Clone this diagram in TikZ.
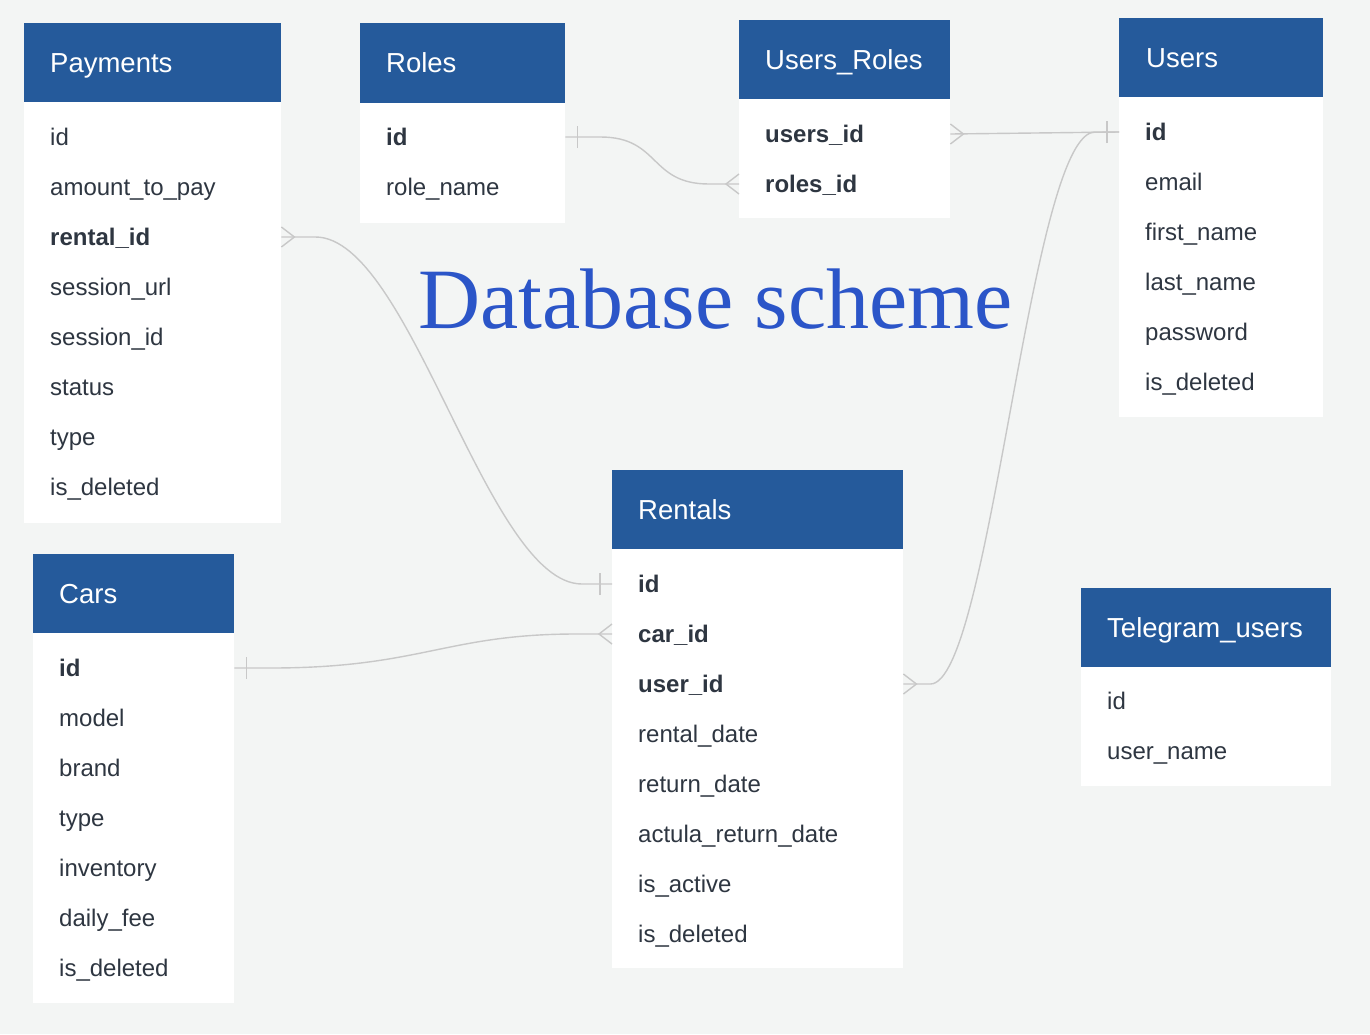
\documentclass[tikz,border=0pt]{standalone}
\usepackage{fontspec}
\setmainfont{Liberation Sans}
\newfontfamily\titlefont{Liberation Serif}
\usetikzlibrary{calc}
\definecolor{bgc}{HTML}{F3F5F4}
\definecolor{hblue}{HTML}{255A9B}
\definecolor{txt}{HTML}{2E3641}
\definecolor{lnc}{HTML}{C8C8C8}
\definecolor{ttl}{HTML}{2B55C8}
\tikzset{
  hdrbox/.style={fill=hblue, draw=none, anchor=north west, minimum height=79pt, inner sep=0pt},
  hdrtxt/.style={anchor=base west, inner sep=0pt, text=white, font=\fontsize{27.5}{30}\selectfont},
  bodybox/.style={fill=white, draw=none, anchor=north west, inner sep=0pt},
  row/.style={anchor=west, text width=#1, inner xsep=26pt, inner ysep=0pt, text height=20pt, text depth=3pt, minimum height=50pt, align=left, text=txt, font=\fontsize{24}{26}\selectfont},
  conn/.style={draw=lnc, line width=1.4pt},
  crow/.pic={\draw[conn] (0,10) -- (13,0) -- (0,-10);},
  onebar/.pic={\draw[conn] (12,-11) -- (12,11);}
}
\begin{document}
\begin{tikzpicture}[x=1pt,y=1pt]
\fill[bgc] (0,0) rectangle (1370,-1034);
\useasboundingbox (0,0) rectangle (1370,-1034);

% title
\node[anchor=base west, inner sep=0pt, text=ttl, font=\titlefont\fontsize{86}{90}\selectfont] (title) at (418,-328) {Database scheme};

% Payments
\node[bodybox, minimum width=257pt, minimum height=421pt] (payB) at (24,-102) {};
\node[hdrbox, minimum width=257pt] (payH) at (24,-23) {};
\node[hdrtxt] (payT) at (50,-72) {Payments};
\node[row=205pt] (pay-id) at (24,-137) {id};
\node[row=205pt] (pay-amt) at (24,-187) {amount\_to\_pay};
\node[row=205pt, font=\fontsize{24}{26}\selectfont\bfseries] (pay-rental) at (24,-237) {rental\_id};
\node[row=205pt] (pay-url) at (24,-287) {session\_url};
\node[row=205pt] (pay-sid) at (24,-337) {session\_id};
\node[row=205pt] (pay-status) at (24,-387) {status};
\node[row=205pt] (pay-type) at (24,-437) {type};
\node[row=205pt] (pay-del) at (24,-487) {is\_deleted};

% Roles
\node[bodybox, minimum width=205pt, minimum height=120pt] (rolB) at (360,-103) {};
\node[hdrbox, minimum width=205pt, minimum height=80pt] (rolH) at (360,-23) {};
\node[hdrtxt] (rolT) at (386,-72) {Roles};
\node[row=153pt, font=\fontsize{24}{26}\selectfont\bfseries] (rol-id) at (360,-137) {id};
\node[row=153pt] (rol-name) at (360,-187) {role\_name};

% Users_Roles
\node[bodybox, minimum width=211pt, minimum height=119pt] (urB) at (739,-99) {};
\node[hdrbox, minimum width=211pt] (urH) at (739,-20) {};
\node[hdrtxt] (urT) at (765,-69) {Users\_Roles};
\node[row=159pt, font=\fontsize{24}{26}\selectfont\bfseries] (ur-users) at (739,-134) {users\_id};
\node[row=159pt, font=\fontsize{24}{26}\selectfont\bfseries] (ur-roles) at (739,-184) {roles\_id};

% Users
\node[bodybox, minimum width=204pt, minimum height=320pt] (usB) at (1119,-97) {};
\node[hdrbox, minimum width=204pt] (usH) at (1119,-18) {};
\node[hdrtxt] (usT) at (1146,-67) {Users};
\node[row=152pt, font=\fontsize{24}{26}\selectfont\bfseries] (us-id) at (1119,-132) {id};
\node[row=152pt] (us-email) at (1119,-182) {email};
\node[row=152pt] (us-first) at (1119,-232) {first\_name};
\node[row=152pt] (us-last) at (1119,-282) {last\_name};
\node[row=152pt] (us-pass) at (1119,-332) {password};
\node[row=152pt] (us-del) at (1119,-382) {is\_deleted};

% Rentals
\node[bodybox, minimum width=291pt, minimum height=419pt] (renB) at (612,-549) {};
\node[hdrbox, minimum width=291pt] (renH) at (612,-470) {};
\node[hdrtxt] (renT) at (638,-519) {Rentals};
\node[row=239pt, font=\fontsize{24}{26}\selectfont\bfseries] (ren-id) at (612,-584) {id};
\node[row=239pt, font=\fontsize{24}{26}\selectfont\bfseries] (ren-car) at (612,-634) {car\_id};
\node[row=239pt, font=\fontsize{24}{26}\selectfont\bfseries] (ren-user) at (612,-684) {user\_id};
\node[row=239pt] (ren-rdate) at (612,-734) {rental\_date};
\node[row=239pt] (ren-ret) at (612,-784) {return\_date};
\node[row=239pt] (ren-act) at (612,-834) {actula\_return\_date};
\node[row=239pt] (ren-active) at (612,-884) {is\_active};
\node[row=239pt] (ren-del) at (612,-934) {is\_deleted};

% Cars
\node[bodybox, minimum width=201pt, minimum height=370pt] (carB) at (33,-633) {};
\node[hdrbox, minimum width=201pt] (carH) at (33,-554) {};
\node[hdrtxt] (carT) at (59,-603) {Cars};
\node[row=149pt, font=\fontsize{24}{26}\selectfont\bfseries] (car-id) at (33,-668) {id};
\node[row=149pt] (car-model) at (33,-718) {model};
\node[row=149pt] (car-brand) at (33,-768) {brand};
\node[row=149pt] (car-type) at (33,-818) {type};
\node[row=149pt] (car-inv) at (33,-868) {inventory};
\node[row=149pt] (car-fee) at (33,-918) {daily\_fee};
\node[row=149pt] (car-del) at (33,-968) {is\_deleted};

% Telegram_users
\node[bodybox, minimum width=250pt, minimum height=119pt] (tgB) at (1081,-667) {};
\node[hdrbox, minimum width=250pt] (tgH) at (1081,-588) {};
\node[hdrtxt] (tgT) at (1107,-637) {Telegram\_users};
\node[row=198pt] (tg-id) at (1081,-701) {id};
\node[row=198pt] (tg-name) at (1081,-751) {user\_name};

% connectors
\draw[conn] (rol-id.east) -- ++(35,0) .. controls +(60,0) and +(-60,0) .. ($(ur-roles.west)+(-30,0)$) -- (ur-roles.west);
\draw[conn] (ur-users.east) -- (us-id.west);
\draw[conn] (pay-rental.east) -- ++(34,0) .. controls +(95,0) and +(-95,0) .. ($(ren-id.west)+(-30,0)$) -- (ren-id.west);
\draw[conn] (car-id.east) -- ++(36,0) .. controls +(150,0) and +(-130,0) .. ($(ren-car.west)+(-36,0)$) -- (ren-car.west);
\draw[conn] (ren-user.east) -- ++(27,0) .. controls +(60,0) and +(-65,0) .. ($(us-id.west)+(-24,0)$) -- (us-id.west);

% ends
\pic at (pay-rental.east) {crow};
\pic[xscale=-1] at (ur-roles.west) {crow};
\pic at (ur-users.east) {crow};
\pic[xscale=-1] at (ren-car.west) {crow};
\pic at (ren-user.east) {crow};
\pic at (rol-id.east) {onebar};
\pic at (car-id.east) {onebar};
\pic[xscale=-1] at (us-id.west) {onebar};
\pic[xscale=-1] at (ren-id.west) {onebar};
\end{tikzpicture}
\end{document}
